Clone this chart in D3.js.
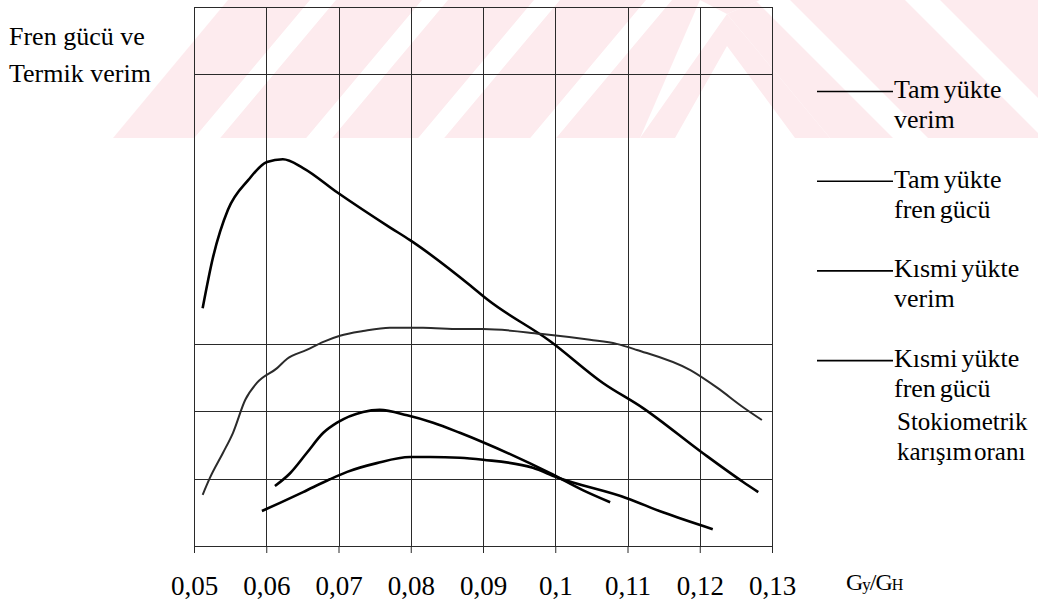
<!DOCTYPE html>
<html>
<head>
<meta charset="utf-8">
<script src="https://cdn.jsdelivr.net/npm/d3@7"></script>
<style>
  html, body { margin: 0; padding: 0; background: #fff; }
</style>
</head>
<body>
<div id="chart"></div>
<script>
// x axis: Gy/GH, y axis has no numbers (relative scale, 8 grid steps)
const xTicks = [0.05, 0.06, 0.07, 0.08, 0.09, 0.1, 0.11, 0.12, 0.13];
const yGridValues = [0, 1, 2, 3, 7, 8];
const yLabel = ["Fren gücü ve", "Termik verim"];

// curves, [Gy/GH, relative value]
const tamVerim = [
  [0.0512, 3.53], [0.0526, 4.27], [0.0547, 4.99], [0.0575, 5.43], [0.0601, 5.70],
  [0.0623, 5.74], [0.0651, 5.61], [0.0698, 5.25], [0.0771, 4.73], [0.0799, 4.54],
  [0.0882, 3.87], [0.0907, 3.65], [0.0993, 3.04], [0.1066, 2.42], [0.1121, 2.05],
  [0.1204, 1.38], [0.1260, 0.95], [0.1281, 0.80]
];
const tamFren = [
  [0.0512, 0.76], [0.0522, 1.01], [0.0540, 1.38], [0.0554, 1.68], [0.0571, 2.17],
  [0.0587, 2.42], [0.0615, 2.64], [0.0629, 2.78], [0.0656, 2.91], [0.0679, 3.03],
  [0.0702, 3.12], [0.0734, 3.19], [0.0771, 3.24], [0.0817, 3.24], [0.0868, 3.22],
  [0.0900, 3.22], [0.0979, 3.15], [0.1048, 3.06], [0.1085, 3.00], [0.1113, 2.91],
  [0.1187, 2.61], [0.1224, 2.35], [0.1260, 2.06], [0.1286, 1.87]
];
const kismiVerim = [
  [0.0612, 0.89], [0.0633, 1.08], [0.0656, 1.38], [0.0679, 1.68], [0.0698, 1.83],
  [0.0734, 1.99], [0.0757, 2.02], [0.0795, 1.94], [0.0831, 1.83], [0.0868, 1.68],
  [0.0900, 1.54], [0.0993, 1.08], [0.1038, 0.83], [0.1076, 0.65]
];
const kismiFren = [
  [0.0594, 0.52], [0.0619, 0.64], [0.0651, 0.80], [0.0688, 0.99], [0.0712, 1.10],
  [0.0753, 1.23], [0.0799, 1.32], [0.0827, 1.32], [0.0868, 1.31], [0.0900, 1.28],
  [0.0969, 1.16], [0.1002, 1.02], [0.1099, 0.71], [0.1149, 0.50], [0.1218, 0.25]
];

const legendLabels = [
  ["Tam yükte", "verim"],
  ["Tam yükte", "fren gücü"],
  ["Kısmi yükte", "verim"],
  ["Kısmi yükte", "fren gücü"]
];
const noteLabel = ["Stokiometrik", "karışım oranı"];

const width = 1038;
const height = 603;
const plot = { left: 194, right: 772, top: 7, bottom: 546 };
const serif = "Liberation Serif";

const svg = d3
  .select("#chart")
  .append("svg")
  .attr("width", width)
  .attr("height", height);

// words of a label set as tspans, the scan has a very narrow word gap
function tightWords(text, gap) {
  text.each(function(d) {
    const t = d3.select(this);
    d.split(" ").forEach((w, i) => {
      t.append("tspan")
        .attr("dx", i === 0 ? 0 : gap)
        .text(w);
    });
  });
}

// watermark in the scan (pink stripes behind the top of the chart)
const defs = svg.append("defs");
const wmPink = "#fdebee";

defs
  .append("pattern")
  .attr("id", "stripesA")
  .attr("patternUnits", "userSpaceOnUse")
  .attr("width", 112)
  .attr("height", 138)
  .attr("patternTransform", "skewX(-40)")
  .append("rect")
  .attr("width", 86)
  .attr("height", 138)
  .attr("fill", wmPink);

defs
  .append("pattern")
  .attr("id", "stripesB")
  .attr("patternUnits", "userSpaceOnUse")
  .attr("width", 150)
  .attr("height", 138)
  .attr("x", 40)
  .attr("patternTransform", "skewX(45)")
  .append("rect")
  .attr("width", 115)
  .attr("height", 138)
  .attr("fill", wmPink);

const wm = svg.append("g").attr("class", "watermark");
wm.append("path")
  .attr("d", "M113,138 L228,0 L700,0 L640,138 Z")
  .attr("fill", "url(#stripesA)");
wm.append("path")
  .attr("d", "M640,138 L727,14 L830,138 L795,138 L727,46 L675,138 Z")
  .attr("fill", wmPink);
wm.append("path")
  .attr("d", "M700,0 L760,0 L727,14 L700,0 Z")
  .attr("fill", wmPink);
wm.append("path")
  .attr("d", "M760,0 L1038,0 L1038,138 L830,138 L727,14 Z")
  .attr("fill", "url(#stripesB)");

const xScale = d3
  .scaleLinear()
  .domain([0.05, 0.13])
  .range([plot.left, plot.right]);

const yScale = d3
  .scaleLinear()
  .domain([0, 8])
  .range([plot.bottom, plot.top]);

// grid
const grid = svg
  .append("g")
  .attr("stroke", "#2a2a2a")
  .attr("stroke-width", 1)
  .attr("shape-rendering", "crispEdges");

grid
  .selectAll("line.v")
  .data(xTicks)
  .enter()
  .append("line")
  .attr("class", "v")
  .attr("x1", d => Math.round(xScale(d)) + 0.5)
  .attr("x2", d => Math.round(xScale(d)) + 0.5)
  .attr("y1", yScale(8))
  .attr("y2", yScale(0));

grid
  .selectAll("line.h")
  .data(yGridValues)
  .enter()
  .append("line")
  .attr("class", "h")
  .attr("x1", xScale(0.05))
  .attr("x2", xScale(0.13))
  .attr("y1", d => Math.round(yScale(d)) + 0.5)
  .attr("y2", d => Math.round(yScale(d)) + 0.5);

// x axis: only the ticks and labels, the bottom grid line is the axis line
const xAxis = d3
  .axisBottom(xScale)
  .tickValues(xTicks)
  .tickSizeInner(7)
  .tickSizeOuter(0)
  .tickPadding(23)
  .tickFormat(d => String(d).replace(".", ","));

svg
  .append("g")
  .attr("transform", "translate(0," + yScale(0) + ")")
  .call(xAxis)
  .call(g => g.select(".domain").remove())
  .call(g => g.selectAll(".tick line").attr("stroke", "#2a2a2a"))
  .call(g =>
    g
      .selectAll(".tick text")
      .attr("fill", "#000")
      .style("font-family", serif)
      .style("font-size", "27px")
  );

// axis title Gy/GH
const xTitle = svg
  .append("text")
  .attr("x", 846)
  .attr("y", 590)
  .attr("fill", "#000")
  .style("font-family", serif)
  .style("font-size", "24px")
  .style("letter-spacing", "-1px");
xTitle.append("tspan").text("G");
xTitle.append("tspan").style("font-size", "17px").text("y");
xTitle.append("tspan").text("/G");
xTitle.append("tspan").style("font-size", "16px").text("H");

// y title on the left
svg
  .append("g")
  .selectAll("text")
  .data(yLabel)
  .enter()
  .append("text")
  .attr("x", 9)
  .attr("y", (d, i) => 45 + i * 37)
  .attr("fill", "#000")
  .style("font-family", serif)
  .style("font-size", "26px")
  .text(d => d);

// curves
const line = d3
  .line()
  .x(d => xScale(d[0]))
  .y(d => yScale(d[1]))
  .curve(d3.curveMonotoneX);

const series = [
  { data: tamVerim, width: 2.6, color: "#000" },
  { data: tamFren, width: 2.0, color: "#2b2b2b" },
  { data: kismiVerim, width: 2.6, color: "#000" },
  { data: kismiFren, width: 2.6, color: "#000" }
];

svg
  .append("g")
  .selectAll("path")
  .data(series)
  .enter()
  .append("path")
  .attr("fill", "none")
  .attr("stroke", d => d.color)
  .attr("stroke-width", d => d.width)
  .attr("stroke-linejoin", "round")
  .attr("d", d => line(d.data));

// legend on the right
const legend = svg
  .append("g")
  .selectAll("g")
  .data(legendLabels)
  .enter()
  .append("g")
  .attr("transform", (d, i) => "translate(0," + (98 + i * 89.7) + ")");

legend
  .append("line")
  .attr("x1", 817)
  .attr("x2", 893)
  .attr("y1", -6.5)
  .attr("y2", -6.5)
  .attr("stroke", "#000")
  .attr("stroke-width", 1.6);

legend
  .selectAll("text")
  .data(d => d)
  .enter()
  .append("text")
  .attr("x", 894)
  .attr("y", (d, i) => i * 30)
  .attr("fill", "#000")
  .style("font-family", serif)
  .style("font-size", "26px")
  .call(tightWords, 4);

svg
  .append("g")
  .selectAll("text")
  .data(noteLabel)
  .enter()
  .append("text")
  .attr("x", 897)
  .attr("y", (d, i) => 430 + i * 30)
  .attr("fill", "#000")
  .style("font-family", serif)
  .style("font-size", "25px")
  .call(tightWords, 2);
</script>
</body>
</html>
